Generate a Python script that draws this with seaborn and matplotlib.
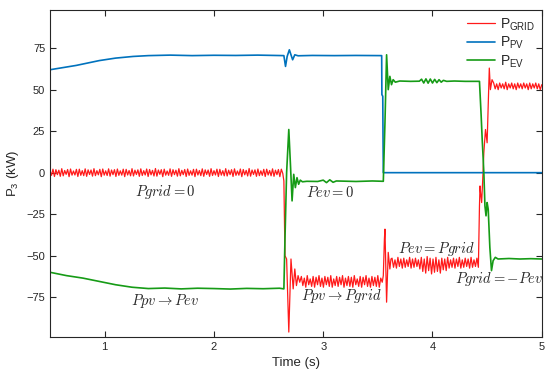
import numpy as np
import seaborn as sns
from matplotlib import pyplot as plt

# ---- data ----
# P_GRID: steady ripple segments + transients
grid_seg1_t = (0.50, 2.63)
grid_seg1 = [1.0, -1.6, 2.1, -2.3, 1.8, -1.2, 1.5, -2.2, 2.4, -1.9, 1.3, -1.0, 1.9, -2.4, 2.2, -1.5,
             1.0, -1.4, 2.0, -2.3, 2.1, -1.6, 1.2, -1.8, 2.3, -2.2, 1.7, -1.1, 1.6, -2.1, 2.4, -1.8,
             1.2, -1.3, 2.0, -2.4, 2.2, -1.5, 1.1, -1.7, 2.3, -2.1, 1.6, -1.2, 1.8, -2.3, 2.2, -1.6,
             1.1, -1.5, 2.1, -2.4, 2.0, -1.4, 1.3, -1.9, 2.4, -2.0, 1.5, -1.1, 1.7, -2.2, 2.3, -1.7,
             1.2, -1.4, 2.2, -2.3, 1.9, -1.3, 1.4, -2.0, 2.5, -2.1, 1.6, -1.0, 1.8, -2.4, 2.1, -1.5,
             1.0, -1.6, 2.3, -2.2, 1.8, -1.2, 1.5, -2.1, 2.4, -1.9, 1.4, -1.2, 1.9, -2.3, 2.2, -1.6,
             1.1, -1.5, 2.0, -2.4, 2.1, -1.4, 1.3, -1.8, 2.3, -2.2, 1.7, -1.1, 1.6, -2.2, 2.4, -1.7,
             1.2, -1.4, 2.1, -2.3, 2.0, -1.5, 1.2, -1.9, 2.4, -2.0, 1.5, -1.2, 1.8, -2.3, 2.3, -1.6,
             1.0, -1.5, 2.2, -2.4, 1.9, -1.3, 1.4, -2.0, 2.5, -2.1, 1.6, -1.1, 1.7, -2.2, 2.2, -1.8,
             1.1, -1.6, 2.0, -2.3, 2.1, -1.4, 1.3, -1.9, 2.3, -2.2, 1.5, -1.2, 1.9, -2.4, 2.1, -0.5]
grid_tr1_t = [2.64, 2.65, 2.665, 2.685, 2.705, 2.725, 2.74, 2.755, 2.77, 2.785]
grid_tr1 = [-5, -50, -52, -96, -52, -70, -58, -68, -62, -66]
grid_seg2_t = (2.80, 3.54)
grid_seg2 = [-62.5, -68.0, -63.5, -69.0, -62.0, -67.5, -64.0, -68.5, -62.5, -69.0, -63.0, -67.5,
             -62.0, -68.5, -63.5, -69.0, -62.5, -67.5, -63.0, -68.5, -62.0, -69.0, -64.0, -68.0,
             -62.5, -68.5, -63.0, -67.5, -62.0, -69.0, -63.5, -68.0, -62.5, -68.5, -63.0, -69.0,
             -62.0, -67.5, -64.0, -68.5, -62.5, -69.0, -63.0, -67.5, -62.0, -68.5, -63.5, -69.0,
             -62.5, -68.0, -63.0, -68.5, -62.0, -69.0, -63.5, -66.0]
grid_tr2_t = [3.55, 3.56, 3.565, 3.58, 3.595, 3.61, 3.62]
grid_tr2 = [-62, -40, -34, -78, -48, -58, -52]
grid_seg3_t = (3.63, 4.42)
grid_seg3 = [-51.5, -57.0, -52.5, -57.5, -51.0, -56.5, -52.0, -57.5, -51.5, -57.0, -52.5, -56.5,
             -51.0, -57.5, -52.0, -57.0, -51.5, -56.5, -52.5, -58.0, -51.0, -59.5, -52.0, -60.5,
             -50.5, -59.0, -51.5, -61.0, -52.0, -60.0, -51.0, -59.5, -52.5, -60.5, -51.5, -58.5,
             -52.0, -59.0, -51.0, -57.5, -52.5, -57.0, -51.5, -57.5, -52.0, -56.5, -51.0, -57.5,
             -52.5, -57.0, -51.5, -56.5, -52.0, -57.5, -51.0, -57.0, -52.5, -56.5, -51.5, -57.0]
grid_tr3_t = [4.43, 4.435, 4.44, 4.45, 4.46, 4.47, 4.485, 4.50, 4.52, 4.53, 4.545]
grid_tr3 = [-20, -8, -12, -18, -4, 12, 26, 18, 63, 50, 56]
grid_seg4_t = (4.56, 5.00)
grid_seg4 = [54.0, 50.5, 53.5, 50.0, 54.0, 51.0, 53.5, 50.5, 54.5, 50.0, 53.5, 51.0, 54.0, 50.5,
             53.5, 50.0, 54.0, 51.0, 53.5, 50.5, 54.0, 51.0, 53.5, 50.0, 54.0, 50.5, 53.5, 51.0,
             54.0, 50.5, 53.5, 50.0, 53.0]

# P_PV
pv_t = [0.5, 0.74, 0.95, 1.1, 1.26, 1.4, 1.6, 1.8, 2.0, 2.2, 2.4, 2.64, 2.655, 2.67, 2.69, 2.72,
        2.74, 2.77, 2.9, 3.1, 3.3, 3.535, 3.537, 3.545, 3.547, 3.55, 4.0, 4.5, 5.0]
pv_p = [62, 64.6, 67.5, 69, 70, 70.5, 70.8, 70.5, 70.7, 70.6, 70.8, 70.5, 64, 70, 74, 68,
        71, 70.4, 70.6, 70.5, 70.6, 70.5, 47, 46, 24, 0, 0, 0, 0]

# P_EV
ev_t = [0.5, 0.65, 0.8, 0.95, 1.1, 1.25, 1.4, 1.55, 1.7, 1.85, 2.0, 2.15, 2.3, 2.45, 2.6, 2.64,
        2.65, 2.665, 2.685, 2.70, 2.715, 2.73, 2.745, 2.76, 2.775, 2.79, 2.81, 2.85, 2.95, 3.0,
        3.03, 3.06, 3.09, 3.12, 3.3, 3.45, 3.55,
        3.565, 3.58, 3.595, 3.61, 3.625, 3.64, 3.66, 3.7, 3.8, 3.88, 3.9, 3.92, 3.94, 3.96, 3.98,
        4.0, 4.02, 4.04, 4.06, 4.08, 4.1, 4.13, 4.2, 4.3, 4.43,
        4.445, 4.455, 4.462, 4.47, 4.48, 4.49, 4.50, 4.51, 4.525, 4.54, 4.555, 4.575, 4.6, 4.7,
        4.8, 4.9, 5.0]
ev_p = [-60, -62, -63.5, -65.5, -67.5, -69, -69.8, -69.5, -70, -69.6, -69.8, -70.1, -69.7, -69.9,
        -69.6, -70,
        -40, 0, 26, 5, -17, -1, -9, -3, -7, -4.5, -5.5, -5.2, -5.3, -4.5,
        -6, -4.3, -5.8, -5, -5.3, -5, -5.2,
        30, 71, 50, 58, 53, 56, 54.5, 55.2, 55, 55.1, 56.3, 54, 56.5, 53.9, 56.4,
        54, 56.2, 54.2, 56, 54.5, 55.6, 55, 55.2, 55, 55,
        35, 20, 11, 0, -20, -26, -18, -22, -45, -59, -53, -51, -52, -51.7,
        -52, -51.8, -52]

labels = ["P$_{\\rm GRID}$", "P$_{\\rm PV}$", "P$_{\\rm EV}$"]
colors = ["#ff1a1a", "#0072bd", "#169b16"]
widths = [0.9, 1.2, 1.2]

notes = [(1.555, -11.4, "$Pgrid = 0$"), (3.06, -12, "$Pev = 0$"),
         (1.55, -77, "$Ppv \\rightarrow Pev$"), (3.17, -74.5, "$Ppv \\rightarrow Pgrid$"),
         (4.04, -46, "$Pev = Pgrid$"), (4.61, -64, "$Pgrid = -Pev$")]

# build grid series
grid_t = np.concatenate([np.linspace(*grid_seg1_t, len(grid_seg1)), grid_tr1_t,
                         np.linspace(*grid_seg2_t, len(grid_seg2)), grid_tr2_t,
                         np.linspace(*grid_seg3_t, len(grid_seg3)), grid_tr3_t,
                         np.linspace(*grid_seg4_t, len(grid_seg4))])
grid_p = np.concatenate([grid_seg1, grid_tr1, grid_seg2, grid_tr2, grid_seg3, grid_tr3, grid_seg4])

sns.set_style("ticks")
plt.rcParams['font.family'] = ['Liberation Sans', 'DejaVu Sans']
plt.rcParams['mathtext.fontset'] = 'custom'
plt.rcParams['mathtext.rm'] = 'Liberation Sans'
plt.rcParams['mathtext.it'] = 'Liberation Sans:italic'

fig, ax = plt.subplots(figsize=(5.5, 3.83), dpi=100)
fig.subplots_adjust(left=0.091, right=0.985, top=0.974, bottom=0.12)

for (t, p), lab, c, w in zip([(grid_t, grid_p), (pv_t, pv_p), (ev_t, ev_p)], labels, colors, widths):
    sns.lineplot(x=np.asarray(t, float), y=np.asarray(p, float), ax=ax, color=c, lw=w,
                 label=lab, sort=False, estimator=None)

for x, y, s in notes:
    ax.text(x, y, s, ha="center", va="center", fontsize=10.5, math_fontfamily="cm")

ax.set_xlim(0.5, 5)
ax.set_ylim(-99, 98)
ax.set_xticks([1, 2, 3, 4, 5])
ax.set_yticks([-75, -50, -25, 0, 25, 50, 75])
ax.tick_params(direction="in", top=True, right=True, labelsize=8, length=4, width=0.8)
for s in ax.spines.values():
    s.set_linewidth(0.8)
ax.set_xlabel("Time (s)", fontsize=9.5)
ax.set_ylabel("P$_3$ (kW)", fontsize=9.5)

ax.legend(loc="upper right", frameon=False, fontsize=10, handlelength=2.0,
          borderaxespad=0.05, labelspacing=0.15, handletextpad=0.4)

fig.savefig("out.png", dpi=100)
